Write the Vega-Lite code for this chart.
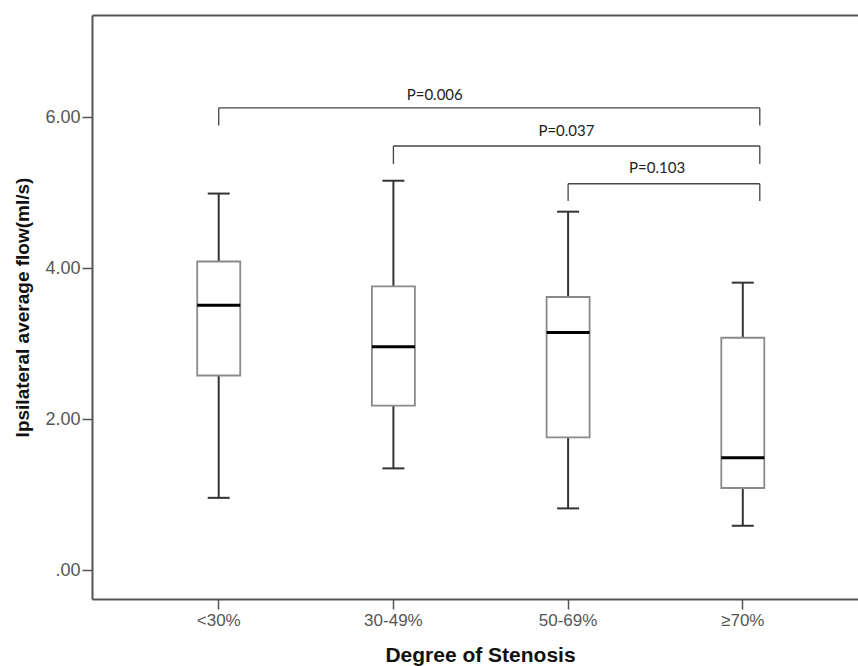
{
  "$schema": "https://vega.github.io/schema/vega-lite/v6.json",
  "width": 766,
  "height": 584,
  "autosize": {"type": "none"},
  "padding": {"left": 92, "top": 15, "right": 0, "bottom": 67},
  "background": "white",
  "config": {
    "view": {"stroke": null},
    "font": "Liberation Sans",
    "axis": {"grid": false},
    "tick": {"opacity": 1},
    "bar": {"opacity": 1}
  },
  "datasets": {
    "boxes": [
      {"cat": "<30%", "min": 0.96, "q1": 2.58, "median": 3.51, "q3": 4.09, "max": 4.99},
      {"cat": "30-49%", "min": 1.35, "q1": 2.18, "median": 2.96, "q3": 3.76, "max": 5.16},
      {"cat": "50-69%", "min": 0.82, "q1": 1.76, "median": 3.15, "q3": 3.62, "max": 4.75},
      {"cat": "≥70%", "min": 0.59, "q1": 1.09, "median": 1.49, "q3": 3.08, "max": 3.81}
    ],
    "brackets": [
      {"from": "<30%", "to": "≥70%", "y": 6.125, "yb": 5.89, "label": "P=0.006", "ly": 6.3},
      {"from": "30-49%", "to": "≥70%", "y": 5.62, "yb": 5.38, "label": "P=0.037", "ly": 5.815},
      {"from": "50-69%", "to": "≥70%", "y": 5.12, "yb": 4.89, "label": "P=0.103", "ly": 5.33}
    ]
  },
  "resolve": {"axis": {"x": "independent"}},
  "layer": [
    {
      "layer": [
        {
          "data": {"name": "boxes"},
          "mark": {"type": "rule", "color": "#333333", "strokeWidth": 2},
          "encoding": {
            "x": {
              "field": "cat", "type": "nominal", "title": "Degree of Stenosis",
              "scale": {"domain": ["<30%", "30-49%", "50-69%", "≥70%"], "paddingInner": 0, "paddingOuter": 0.1924, "align": 0.5856},
              "axis": {
                "orient": "bottom",
                "bandPosition": 0.5,
                "labelAngle": 0,
                "labelFontSize": 17,
                "labelColor": "#555555",
                "labelPadding": 3,
                "tickSize": 10,
                "tickColor": "#555555",
                "tickWidth": 1.5,
                "domainColor": "#555555",
                "domainWidth": 2,
                "titleFontSize": 21,
                "titleFontWeight": "bold",
                "titleColor": "#111111",
                "titleX": 388,
                "titleY": 56,
                "titleBaseline": "middle",
                "titleAlign": "center"
              }
            },
            "y": {
              "field": "min", "type": "quantitative", "title": "Ipsilateral average flow(ml/s)",
              "scale": {"domain": [-0.38, 7.355], "nice": false, "zero": false},
              "axis": {
                "values": [0, 2, 4, 6],
                "labelExpr": "datum.value == 0 ? '.00' : format(datum.value, '.2f')",
                "labelFontSize": 18,
                "labelColor": "#555555",
                "labelPadding": 2,
                "tickSize": 10,
                "tickColor": "#555555",
                "tickWidth": 1.5,
                "domainColor": "#555555",
                "domainWidth": 2,
                "titleFontSize": 19,
                "titleFontWeight": "bold",
                "titleColor": "#111111",
                "titleAngle": 270,
                "titleX": -70,
                "titleY": 292,
                "titleBaseline": "middle",
                "titleAlign": "center"
              }
            },
            "y2": {"field": "q1"}
          }
        },
        {
          "data": {"name": "boxes"},
          "mark": {"type": "rule", "color": "#333333", "strokeWidth": 2},
          "encoding": {
            "x": {"field": "cat", "type": "nominal", "title": "Degree of Stenosis", "scale": {"domain": ["<30%", "30-49%", "50-69%", "≥70%"], "paddingInner": 0, "paddingOuter": 0.1924, "align": 0.5856}},
            "y": {"field": "q3", "type": "quantitative", "title": "Ipsilateral average flow(ml/s)", "scale": {"domain": [-0.38, 7.355], "nice": false, "zero": false}},
            "y2": {"field": "max"}
          }
        },
        {
          "data": {"name": "boxes"},
          "mark": {"type": "tick", "color": "#333333", "size": 22, "thickness": 2},
          "encoding": {
            "x": {"field": "cat", "type": "nominal", "title": "Degree of Stenosis", "scale": {"domain": ["<30%", "30-49%", "50-69%", "≥70%"], "paddingInner": 0, "paddingOuter": 0.1924, "align": 0.5856}},
            "y": {"field": "min", "type": "quantitative", "title": "Ipsilateral average flow(ml/s)", "scale": {"domain": [-0.38, 7.355], "nice": false, "zero": false}}
          }
        },
        {
          "data": {"name": "boxes"},
          "mark": {"type": "tick", "color": "#333333", "size": 22, "thickness": 2},
          "encoding": {
            "x": {"field": "cat", "type": "nominal", "title": "Degree of Stenosis", "scale": {"domain": ["<30%", "30-49%", "50-69%", "≥70%"], "paddingInner": 0, "paddingOuter": 0.1924, "align": 0.5856}},
            "y": {"field": "max", "type": "quantitative", "title": "Ipsilateral average flow(ml/s)", "scale": {"domain": [-0.38, 7.355], "nice": false, "zero": false}}
          }
        },
        {
          "data": {"name": "boxes"},
          "mark": {"type": "bar", "size": 43, "fill": "white", "stroke": "#8a8a8a", "strokeWidth": 1.8},
          "encoding": {
            "x": {"field": "cat", "type": "nominal", "title": "Degree of Stenosis", "scale": {"domain": ["<30%", "30-49%", "50-69%", "≥70%"], "paddingInner": 0, "paddingOuter": 0.1924, "align": 0.5856}},
            "y": {"field": "q1", "type": "quantitative", "title": "Ipsilateral average flow(ml/s)", "scale": {"domain": [-0.38, 7.355], "nice": false, "zero": false}},
            "y2": {"field": "q3"}
          }
        },
        {
          "data": {"name": "boxes"},
          "mark": {"type": "tick", "color": "#000000", "size": 43, "thickness": 3},
          "encoding": {
            "x": {"field": "cat", "type": "nominal", "title": "Degree of Stenosis", "scale": {"domain": ["<30%", "30-49%", "50-69%", "≥70%"], "paddingInner": 0, "paddingOuter": 0.1924, "align": 0.5856}},
            "y": {"field": "median", "type": "quantitative", "title": "Ipsilateral average flow(ml/s)", "scale": {"domain": [-0.38, 7.355], "nice": false, "zero": false}}
          }
        },
        {
          "data": {"name": "brackets"},
          "mark": {"type": "rule", "color": "#444444", "strokeWidth": 1.3},
          "encoding": {
            "x": {"field": "from", "type": "nominal", "title": "Degree of Stenosis", "scale": {"domain": ["<30%", "30-49%", "50-69%", "≥70%"], "paddingInner": 0, "paddingOuter": 0.1924, "align": 0.5856}},
            "y": {"field": "y", "type": "quantitative", "title": "Ipsilateral average flow(ml/s)", "scale": {"domain": [-0.38, 7.355], "nice": false, "zero": false}},
            "y2": {"field": "yb"}
          }
        },
        {
          "data": {"name": "brackets"},
          "mark": {"type": "rule", "color": "#444444", "strokeWidth": 1.3, "xOffset": 17},
          "encoding": {
            "x": {"field": "to", "type": "nominal", "title": "Degree of Stenosis", "scale": {"domain": ["<30%", "30-49%", "50-69%", "≥70%"], "paddingInner": 0, "paddingOuter": 0.1924, "align": 0.5856}},
            "y": {"field": "y", "type": "quantitative", "title": "Ipsilateral average flow(ml/s)", "scale": {"domain": [-0.38, 7.355], "nice": false, "zero": false}},
            "y2": {"field": "yb"}
          }
        },
        {
          "data": {"name": "brackets"},
          "transform": [{"filter": "datum.label == 'P=0.006'"}],
          "mark": {"type": "text", "font": "Lato", "fontSize": 15, "color": "#222222", "dx": 216, "baseline": "middle", "align": "center"},
          "encoding": {
            "x": {"field": "from", "type": "nominal", "title": "Degree of Stenosis", "scale": {"domain": ["<30%", "30-49%", "50-69%", "≥70%"], "paddingInner": 0, "paddingOuter": 0.1924, "align": 0.5856}},
            "y": {"field": "ly", "type": "quantitative", "title": "Ipsilateral average flow(ml/s)", "scale": {"domain": [-0.38, 7.355], "nice": false, "zero": false}},
            "text": {"field": "label"}
          }
        },
        {
          "data": {"name": "brackets"},
          "transform": [{"filter": "datum.label == 'P=0.037'"}],
          "mark": {"type": "text", "font": "Lato", "fontSize": 15, "color": "#222222", "dx": 173, "baseline": "middle", "align": "center"},
          "encoding": {
            "x": {"field": "from", "type": "nominal", "title": "Degree of Stenosis", "scale": {"domain": ["<30%", "30-49%", "50-69%", "≥70%"], "paddingInner": 0, "paddingOuter": 0.1924, "align": 0.5856}},
            "y": {"field": "ly", "type": "quantitative", "title": "Ipsilateral average flow(ml/s)", "scale": {"domain": [-0.38, 7.355], "nice": false, "zero": false}},
            "text": {"field": "label"}
          }
        },
        {
          "data": {"name": "brackets"},
          "transform": [{"filter": "datum.label == 'P=0.103'"}],
          "mark": {"type": "text", "font": "Lato", "fontSize": 15, "color": "#222222", "dx": 89, "baseline": "middle", "align": "center"},
          "encoding": {
            "x": {"field": "from", "type": "nominal", "title": "Degree of Stenosis", "scale": {"domain": ["<30%", "30-49%", "50-69%", "≥70%"], "paddingInner": 0, "paddingOuter": 0.1924, "align": 0.5856}},
            "y": {"field": "ly", "type": "quantitative", "title": "Ipsilateral average flow(ml/s)", "scale": {"domain": [-0.38, 7.355], "nice": false, "zero": false}},
            "text": {"field": "label"}
          }
        }
      ]
    },
    {
      "data": {"name": "brackets"},
      "mark": {"type": "rule", "color": "#444444", "strokeWidth": 1.3, "x2Offset": 17},
      "encoding": {
        "x": {
          "field": "from", "type": "nominal", "title": null,
          "scale": {"domain": ["<30%", "30-49%", "50-69%", "≥70%"], "paddingInner": 0, "paddingOuter": 0.1924, "align": 0.5856},
          "axis": {"orient": "top", "labels": false, "ticks": false, "title": null, "domainColor": "#555555", "domainWidth": 2}
        },
        "x2": {"field": "to"},
        "y": {"field": "y", "type": "quantitative", "title": "Ipsilateral average flow(ml/s)", "scale": {"domain": [-0.38, 7.355], "nice": false, "zero": false}}
      }
    }
  ]
}
